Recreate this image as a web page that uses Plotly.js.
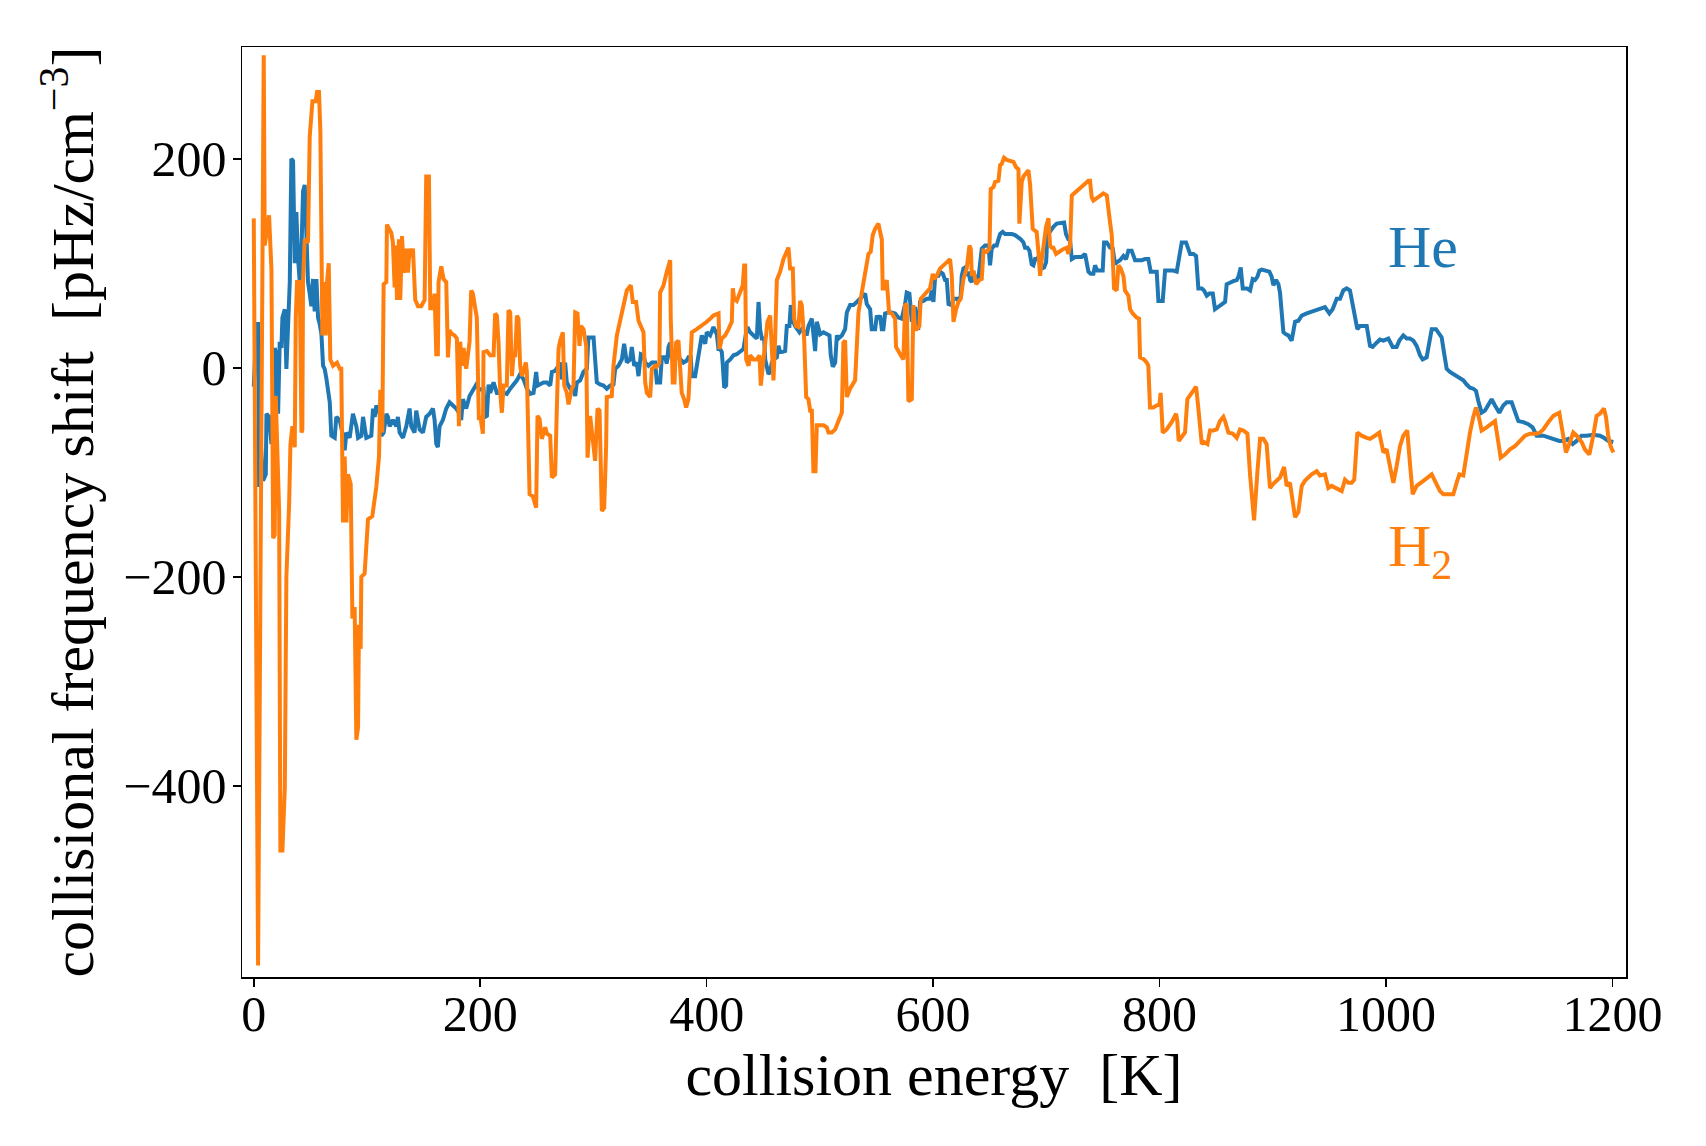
<!DOCTYPE html>
<html>
<head>
<meta charset="utf-8">
<script src="https://cdn.plot.ly/plotly-3.0.1.min.js"></script>
<style>
  html, body { margin: 0; padding: 0; background: #ffffff; }
  #chart { width: 1706px; height: 1146px; }
</style>
</head>
<body>
<div id="chart"></div>
<script>
// Collision energy [K] and frequency shift [pHz/cm^-3] for He
const heEnergy = [0,2.4,3.8,4.7,5.9,8.2,10.6,11.2,13.5,15.6,17.1,18.5,20,21.5,22.9,24.4,25.3,27.4,28.8,30.3,31.8,33.2,34.7,36.2,37.6,39.1,40.6,42.1,43.5,45,46.5,47.9,49.4,50.9,52.3,53.8,55.3,56.8,58.2,59.7,61.2,62.6,64.1,65.6,67.1,68.5,71.5,72.9,75.9,78.8,80.3,81.8,84.7,87.6,90.6,92.1,95,96.5,99.4,103.8,105.3,106.8,108.2,111.2,112.6,114.7,117.1,118.5,120,122.9,125.9,127.3,128.8,131.8,134.7,137.6,139.1,142,143.5,146.5,149.4,152.3,155.3,158.2,159.7,161.2,162.6,164.1,167,170,172.9,175.9,178.8,181.8,183.2,184.7,187.6,190.6,193.5,196.5,199.4,
202.9,204.4,205.9,207.4,208.8,211.8,213.2,214.7,217.7,219.1,220.6,223.5,226.5,229.4,232.4,235.3,238.3,241.2,244.1,247.1,249.4,250.6,253,255.9,258.9,261.8,263.3,266.2,269.2,270.6,272.1,275,276.5,279.5,282.4,283.9,285.3,288.3,291.2,294.2,295.6,300.1,301.5,303,305.9,308.9,311.8,314.8,317.7,319.2,322.1,325.1,327.1,329.5,332.4,333.9,336,338.3,339.8,341.9,344.2,345.7,348.6,351.6,354.5,356,358.9,360.4,363.3,364.8,366.3,367.8,369.2,370.7,373.6,376.6,379.5,382.5,383.9,386,386.9,389.8,391.3,392.8,395.7,398.7,400.1,403.1,406,409,410.4,
411.9,413.4,414.3,415.5,417.2,417.8,420.8,423.7,426.6,429.6,432.5,434.9,436.1,438.4,441.4,444.3,445.8,447.2,448.7,450.8,451.7,453.1,454.6,456.1,457.5,459,462,463.4,464.9,466.4,469.3,470.8,473.1,474.3,476.1,478.1,479.6,482,484,487,488.4,489.9,492.9,494.3,495.8,497.3,498.7,500.2,503.2,506.1,508.5,509.6,511.4,513.5,515,516.4,519.4,522.3,523.8,526.7,529.6,532.6,535.5,538.5,540,541.4,544.4,545.8,548.8,550.3,551.7,553.2,554.7,556.1,557.6,560.5,563.5,566.4,569.4,572.3,575.3,576.7,579.1,581.2,582.6,584.1,585.6,587,588.5,591.5,594.4,597.3,598.8,600.3,601.8,604.7,
606.2,608.6,610.6,612.1,613.6,616.5,618,620.9,622.4,624.4,625.3,626.8,628.3,629.7,631.2,632.7,634.2,635.6,638,640,643,645.9,648.9,650.3,651.8,653.9,656.2,657.7,659.2,661.5,663.6,666.5,669.5,672.4,675.4,677.4,679.8,681.2,683.3,685.1,687.1,688.6,690.1,691.5,693,694.5,696,698,699.8,701,703.3,706.3,709.2,712.7,715.7,717.4,719.5,721,722.5,725.4,728.3,731.3,734.2,735.7,737.2,739.2,741.6,743,745.1,747.5,749.8,751,753.4,756.3,758.7,760.7,762.2,765.1,766.6,768.1,770.4,772.5,775.4,778.4,781.3,784.3,787.2,790.1,792.2,794.6,797.5,799,802.8,804.9,807.8,
812.2,815.2,817.5,819.6,823.4,825.5,827,829.9,832.3,834.3,837.3,839.3,841.7,844,847,849,852,854.9,857.9,859.3,862.3,865.2,868.2,869.6,871.7,873.5,877,880,882.3,884.3,886.4,888.2,890.2,893.2,897,899.1,900.5,902.9,905,906.4,907.9,909.4,911.7,913.8,916.7,919.7,922.6,925.6,930,932.9,936.4,940.3,943.2,946.1,950,952.9,956.5,959.4,962.3,965.3,968.2,971.2,974.7,977.1,980,983,985.9,988.2,991.8,994.7,997.7,1002.1,1005.9,1009.4,1011.8,
1015.3,1018.3,1021.2,1024.2,1027.1,1030.1,1032.4,1035.9,1038.3,1040.4,1044.2,1046.2,1049.2,1051.2,1053.6,1056.5,1059.5,1062.4,1065.4,1068.3,1071.3,1074.2,1077.1,1079.5,1081.6,1084.5,1087.4,1090.4,1093.3,1096.3,1100.1,1103.6,1106.6,1111,1113.9,1116.9,1121.3,1125.7,1129.5,1133.1,1139,1144.8,1149.3,1153.1,1156.6,1161,1164.9,1168.4,1172.8,1177.2,1183.1,1189,1192.5,1196.3,1200.8];
const heShift = [-18,42,42,-114,-67,-108,-102,-44,-47,-73,-39,19,13,-44,25,19,48,56,-1,54,82,200,198,100,149,105,82,111,169,175,129,82,71,59,85,54,85,48,42,33,2,-1,-10,-24,-33,-65,-67,-47,-50,-65,-79,-62,-67,-44,-56,-67,-65,-47,-67,-65,-39,-47,-36,-44,-65,-62,-44,-47,-56,-50,-56,-47,-62,-67,-56,-39,-56,-62,-41,-59,-62,-47,-44,-39,-50,-73,-76,-56,-50,-39,-33,-36,-39,-44,-50,-30,-39,-27,-21,-16,-21,
-20,-47,-46,-16,-24,-14,-20,-24,-24,-17,-24,-25,-20,-16,-12,-6,-11,-20,-25,-24,-4,-17,-16,-14,-14,-17,-4,-3,2,5,-11,5,-14,-20,-20,-27,-14,-12,-4,-1,29,29,8,-14,-16,-17,-20,-17,-16,-1,2,8,23,5,8,20,2,5,-8,13,12,5,2,5,5,-14,-14,10,10,4,20,24,8,10,12,8,5,7,10,10,-8,-8,2,15,31,23,34,31,39,32,18,
18,15,2,-19,-17,5,8,12,13,16,18,34,39,34,31,28,63,37,28,28,8,2,-6,-4,5,8,10,21,15,15,16,40,40,60,45,40,37,34,37,34,31,40,47,31,16,44,37,32,34,32,31,12,1,5,31,28,31,37,53,60,60,63,66,69,71,61,56,37,37,50,47,50,37,37,52,53,53,52,48,47,61,72,71,44,56,58,40,39,63,64,66,66,74,63,87,88,
92,90,84,84,61,60,66,66,64,69,88,95,96,88,92,84,82,92,84,85,114,117,117,98,114,117,117,123,128,130,128,128,128,127,125,123,120,115,115,112,99,98,104,104,106,101,95,96,101,127,131,135,138,139,139,128,123,122,104,106,106,106,109,101,92,90,90,98,93,93,93,120,120,115,114,99,101,103,106,107,104,112,112,103,103,103,104,104,92,92,92,64,64,93,93,
93,92,107,120,120,112,109,109,107,76,76,74,69,71,71,56,58,60,63,80,82,83,84,87,96,76,76,74,85,84,87,93,94,93,92,87,79,84,80,72,53,34,32,31,26,44,45,50,52,53,55,56,57,58,52,56,66,66,74,76,74,56,37,40,40,40,21,20,24,27,26,28,20,20,26,
31,28,28,26,21,12,8,10,28,37,37,34,29,15,-1,-4,-6,-9,-11,-12,-16,-19,-20,-22,-32,-43,-41,-36,-30,-36,-43,-36,-33,-33,-43,-51,-52,-54,-57,-65,-65,-67,-68,-70,-70,-68,-73,-70,-65,-65,-64,-65,-67,-70,-71];

// Collision energy [K] and frequency shift [pHz/cm^-3] for H2
const h2Energy = [0,3.8,8.8,9.7,13.5,15.6,17.1,18.5,19.4,22.4,23.5,25.3,27.4,28.8,31.2,32.4,34.1,36.2,37.1,38.2,40.6,42.1,42.9,43.5,45,47.9,49.4,51.8,54.7,55.9,57.6,58.8,60.6,61.8,63.5,64.7,66.2,67.6,70,73.5,75.9,77.3,78.8,80.3,81.8,83.2,85.6,87.1,89.1,90.6,92.1,92.9,94.4,95,97.9,100.9,104.7,108.2,110.6,111.8,113.5,114.7,117.1,117.6,121.5,122.9,124.4,125.3,126.5,128.2,129.4,130.9,132.6,134.7,136.2,137.6,139.1,140.6,142.6,145,147.9,150.9,152.3,154.7,155.9,158.2,159.7,161.2,162.6,163.2,165.6,167.6,170,171.5,172.9,174.4,177.3,179.4,181.2,182.3,184.1,185.3,187.6,190.6,192,193.5,195,197,198.8,
200,202.4,202.9,205.9,208.8,211.8,213.2,214.7,216.2,217.7,219.1,220.6,223.5,225,226.5,228,229.4,230.9,232.4,233.8,235.3,236.8,238.3,240.3,241.2,243.6,246.5,249.4,250.6,252.4,254.4,257.4,258.9,261.8,263.3,266.2,267.7,269.2,270.6,273,274.2,276.5,278,279.5,280.9,282.4,283.9,285.9,287.7,288.9,291.2,293.6,294.8,297.1,301.5,303.6,305.4,307.4,309.5,311.2,311.8,316.2,317.7,320.7,325.1,329.5,333,334.8,337.7,339.8,344.2,345.7,347.2,350.1,351.6,354.5,356,358.3,358.9,361.9,364.8,367.8,368.3,370.1,371.6,373,375.1,376.6,378,380.1,381.9,383.9,385.4,386.9,391.3,395.7,400.1,403.1,
406,410.5,411.3,413.4,416.3,419.3,422.2,423.1,424.3,426.6,429.6,431.9,433.1,434,434.9,437,438.4,441.4,444.3,446.7,447.8,449.6,451.7,453.7,456.1,457.5,459,460.5,462,464.9,467.8,472.3,473.7,476.1,477.3,479,481.1,482.6,484,486.1,487.9,489.9,491.4,492.9,494.3,496.1,497.3,500.2,503.2,506.1,507.6,510.5,513.5,516.4,519.4,520.8,522.3,523.8,526.7,531.1,532.6,534.1,537,540,542.9,544.9,546.7,548.8,551.7,553.8,554.7,555.5,557.6,559.1,561.1,563.5,566.4,567.3,569.4,571.4,573.8,575.3,576.7,578.2,581.2,582.6,584.1,585.6,587.9,589.1,591.5,594.4,597.3,599.7,600.9,603.2,
606.2,609.1,612.1,615,616.5,618,620.3,622.4,624.4,625.3,626.8,629.7,632.1,633.3,634.2,635.6,638,640.9,643,644.5,647.4,649.8,650.9,653.3,654.8,657.7,659.2,660.6,662.7,665.1,668,671,673.3,675.4,676.2,678.3,679.8,683.3,684.2,685.7,688,690.1,691.5,693,694.5,696,698,699.8,701.9,703.3,704.8,706.3,708.6,710.7,712.7,715.7,718,719.5,721,722.5,725.4,728.3,731.3,734.2,737.2,738.6,740.1,741.6,744.5,747.5,750.4,753.4,754.8,756.3,757.8,758.7,759.8,762.2,763.7,765.7,768.1,769.5,772.5,774,776.3,779.8,781.9,782.8,786.3,788.7,790.1,791.6,794.6,797.5,799.9,801,802.8,806.3,810.7,814.6,815.7,816.9,
821.1,822.5,824.6,828.4,832.3,834.3,837.3,839.3,842.3,844.6,847.6,850.5,853.4,856.4,857.9,860.8,864.6,868.2,871.1,874.1,877.6,880,883.5,886.4,888.8,891.7,894.6,896.1,897.6,900.5,903.5,906.4,910,912.3,915.2,917.6,919.7,922.6,925.6,928.5,931.4,934.4,938.8,941.7,946.1,949.1,952,955,957.9,960.9,963.8,966.8,969.7,972,974.7,978.5,983,985.9,990.3,994.1,997.7,1000.6,1003.5,1006.5,1009.4,1012.4,1015.3,1018.8,
1021.2,1023.6,1027.1,1030.1,1034.5,1040.4,1044.8,1047.7,1050.7,1055.1,1059.5,1062.4,1064.8,1068.3,1071.3,1074.2,1077.1,1079.5,1082.4,1084.5,1088.9,1093.3,1096.3,1099.2,1101.3,1105.1,1109.5,1113.9,1118.3,1122.8,1127.2,1133.1,1136,1139,1143.4,1147.8,1153.1,1156,1159,1162.5,1165.4,1168.4,1172.8,1175.7,1179.6,1183.1,1186,1189,1192.5,1194.3,1196.3,1198.4,1200.8];
const h2Shift = [143,-572,299,117,146,94,-163,-160,-27,-137,-462,-462,-402,-200,-131,-73,-56,-76,48,82,82,-62,-59,82,123,120,221,255,255,264,264,227,31,82,31,82,100,8,2,5,-1,-1,-148,-85,-148,-102,-111,-240,-229,-356,-344,-246,-269,-200,-197,-145,-142,-114,-85,-21,-62,80,82,137,129,120,77,117,65,123,65,126,91,114,91,114,106,114,65,59,59,65,183,183,57,57,71,13,13,82,97,85,82,10,36,33,31,28,-56,25,2,19,-1,25,74,71,59,48,-50,
-46,-63,15,16,12,12,52,50,24,-24,-43,-17,-17,55,53,-8,12,12,50,47,2,-8,-1,5,-4,-121,-123,-134,-46,-49,-68,-57,-63,-65,-105,-102,-38,18,26,34,-17,-24,-35,-24,-20,-17,53,52,21,40,37,21,-86,-46,-89,-39,-41,-137,-134,-75,-28,-27,2,31,53,74,79,63,63,45,34,-14,-24,-28,-1,2,1,5,72,79,92,103,47,-14,-14,24,26,-4,-24,-30,-38,-30,-1,34,37,40,44,47,
50,52,18,28,31,37,44,76,66,64,72,79,98,98,8,2,12,8,8,12,-17,2,24,44,50,15,-12,28,84,92,104,115,95,95,47,40,39,64,60,28,-28,-30,-41,-41,-99,-99,-55,-55,-55,-57,-62,-62,-59,-51,-43,24,26,-28,-20,-12,24,53,72,92,109,111,127,133,138,127,123,76,76,84,53,52,47,20,15,12,8,61,60,-32,-30,60,37,37,40,66,69,72,76,90,85,88,
95,98,101,104,88,44,56,63,66,76,85,95,117,114,88,93,80,84,85,112,111,114,171,173,178,179,194,195,201,199,198,197,192,190,138,178,183,188,189,175,133,131,130,111,88,104,123,135,143,117,115,115,109,111,112,114,115,109,117,165,168,170,173,176,179,179,163,160,162,165,167,165,149,139,127,106,76,74,98,95,88,74,69,56,52,48,47,10,8,5,2,-38,-38,-36,-35,-24,-62,-59,-52,-44,-51,-70,
-63,-62,-30,-24,-18,-39,-73,-71,-73,-60,-60,-59,-51,-47,-51,-62,-63,-67,-59,-60,-63,-103,-146,-100,-68,-68,-73,-95,-115,-111,-108,-105,-95,-113,-110,-129,-143,-138,-113,-108,-105,-102,-99,-103,-102,-115,-113,-115,-116,-118,-107,-110,-110,-107,-62,-65,-67,-68,-65,-62,-81,-78,-94,-110,-94,-75,-65,-60,
-92,-121,-113,-111,-107,-102,-111,-118,-121,-121,-121,-110,-102,-103,-81,-62,-47,-38,-49,-60,-57,-54,-51,-71,-86,-83,-78,-75,-70,-65,-63,-63,-62,-59,-52,-46,-43,-62,-81,-71,-62,-65,-71,-78,-83,-65,-46,-44,-39,-47,-65,-75,-81];

const xTicks = [0, 200, 400, 600, 800, 1000, 1200];
const yTicks = [-400, -200, 0, 200];

const serif = 'Liberation Serif, Times New Roman, serif';
const blue = '#1f77b4';
const orange = '#ff7f0e';

const traces = [
  {
    x: heEnergy, y: heShift, type: 'scatter', mode: 'lines', name: 'He',
    line: { color: blue, width: 4 }
  },
  {
    x: h2Energy, y: h2Shift, type: 'scatter', mode: 'lines', name: 'H2',
    line: { color: orange, width: 4 }
  }
];

const axisCommon = {
  showgrid: false,
  zeroline: false,
  showline: true,
  mirror: true,
  linecolor: '#000000',
  linewidth: 1.5,
  ticks: 'outside',
  ticklen: 8,
  tickwidth: 1.5,
  tickcolor: '#000000',
  tickfont: { family: serif, size: 50, color: '#000000' }
};

const layout = {
  width: 1706,
  height: 1146,
  margin: { l: 242, r: 80, t: 47, b: 169 },
  paper_bgcolor: '#ffffff',
  plot_bgcolor: '#ffffff',
  showlegend: false,
  xaxis: Object.assign({}, axisCommon, {
    range: [-10.4, 1212],
    tickvals: xTicks,
    ticktext: xTicks.map(String),
    ticklabelstandoff: -16,
    title: { text: 'collision energy\u00a0\u00a0[K]', font: { family: serif, size: 60, color: '#000000' }, standoff: 5 }
  }),
  yaxis: Object.assign({}, axisCommon, {
    range: [-583, 307],
    tickvals: yTicks,
    ticktext: yTicks.map(v => v < 0 ? '\u2212' + Math.abs(v) : String(v)),
    ticklabelstandoff: -4,
    title: { text: 'collisional frequency shift\u00a0\u00a0[pHz/cm<sup>\u22123</sup>]', font: { family: serif, size: 60, color: '#000000' }, standoff: 10 }
  }),
  annotations: [
    {
      x: 1000, y: 116, xref: 'x', yref: 'y', xanchor: 'left', yanchor: 'middle',
      text: 'He', showarrow: false,
      font: { family: serif, size: 60, color: blue }
    },
    {
      x: 1000, y: -175, xref: 'x', yref: 'y', xanchor: 'left', yanchor: 'middle',
      text: 'H<sub>2</sub>', showarrow: false,
      font: { family: serif, size: 60, color: orange }
    }
  ]
};

Plotly.newPlot('chart', traces, layout, { displayModeBar: false, staticPlot: true });
</script>
</body>
</html>
